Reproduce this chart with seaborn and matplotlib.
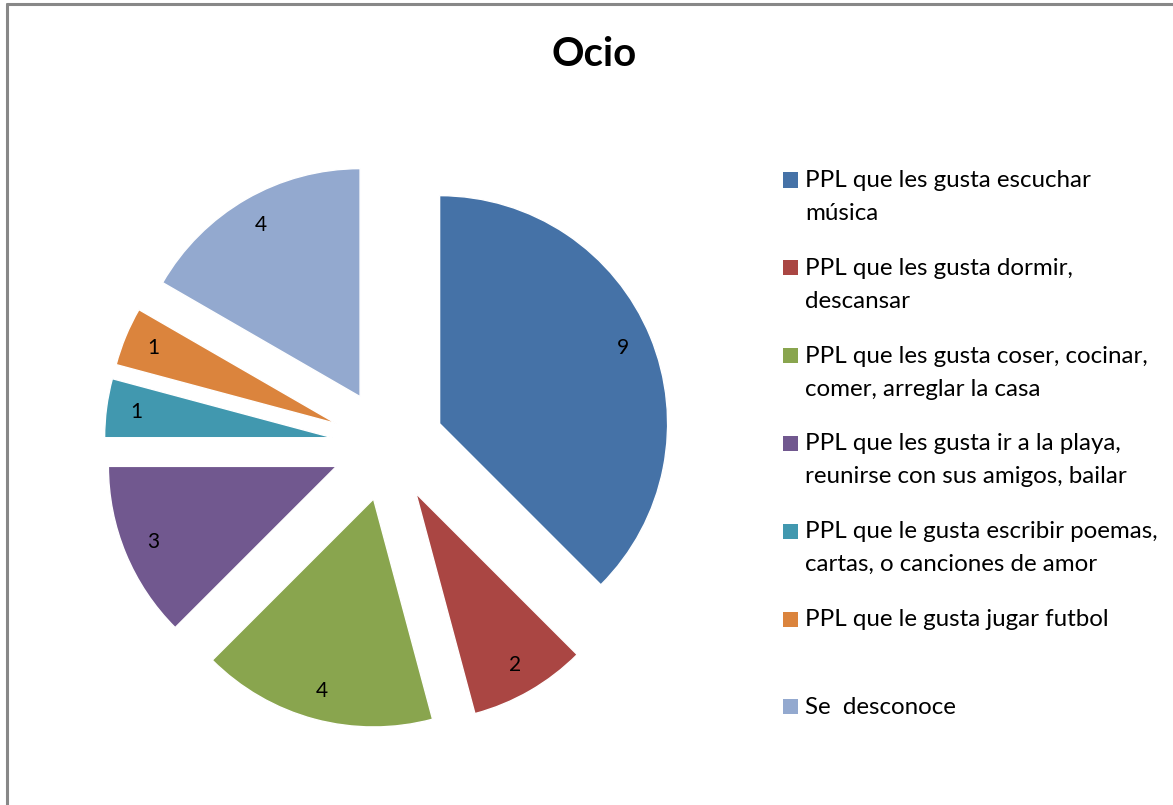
import matplotlib
matplotlib.use("Agg")
import seaborn as sns
from matplotlib import pyplot as plt
from matplotlib.lines import Line2D
from matplotlib.patches import Rectangle

sns.set_theme(style="white")
plt.rcParams["font.family"] = ["Lato", "DejaVu Sans"]
plt.rcParams["text.color"] = "black"

labels = [
    "PPL que les gusta escuchar\nmúsica",
    "PPL que les gusta dormir,\ndescansar",
    "PPL que les gusta coser, cocinar,\ncomer, arreglar la casa",
    "PPL que les gusta ir a la playa,\nreunirse con sus amigos, bailar",
    "PPL que le gusta escribir poemas,\ncartas, o canciones de amor",
    "PPL que le gusta jugar futbol",
    "Se  desconoce",
]
values = [9, 2, 4, 3, 1, 1, 4]
colors = ["#4572a7", "#aa4643", "#89a54e", "#71588f", "#4198af", "#db843d", "#93a9cf"]

W, H = 1173, 805
fig = plt.figure(figsize=(W / 100, H / 100), dpi=100)

# pie axes placed in pixels: center (388, 445), radius 228 px
cx, cy, r = 388, 445, 228
left, right, top, bottom = 60, 720, 140, 760
ax = fig.add_axes([left / W, 1 - bottom / H, (right - left) / W, (bottom - top) / H])

total = sum(values)
wedges, texts, autotexts = ax.pie(
    values,
    colors=colors,
    explode=[0.245] * len(values),
    startangle=90,
    counterclock=False,
    autopct=lambda p: f"{round(p * total / 100)}",
    pctdistance=0.87,
    textprops={"fontsize": 15, "color": "black"},
)
ax.set_xlim(-(cx - left) / r, (right - cx) / r)
ax.set_ylim(-(bottom - cy) / r, (cy - top) / r)

fig.text(594 / W, 1 - 55 / H, "Ocio", ha="center", va="center",
         fontsize=29, fontweight="bold", color="black")

# legend: square marker aligned with the first text line, fixed pitch per entry
mx, tx, sq = 783, 805, 15
y0, pitch, line_h = 180, 87.8, 33
for i, (lab, col) in enumerate(zip(labels, colors)):
    yc = y0 + i * pitch
    fig.add_artist(Rectangle((mx / W, 1 - (yc + sq / 2) / H), sq / W, sq / H,
                             facecolor=col, edgecolor="none", transform=fig.transFigure))
    for j, line in enumerate(lab.split("\n")):
        fig.text(tx / W, 1 - (yc + 7 + j * line_h) / H, line, ha="left",
                 va="baseline", fontsize=17.4, color="black")

# chart frame (only left and top edges visible)
fig.add_artist(Line2D([6.5 / W, 6.5 / W], [0, 1 - 4.5 / H], color="#888888", lw=2.2))
fig.add_artist(Line2D([6.5 / W, 1], [1 - 4.5 / H, 1 - 4.5 / H], color="#888888", lw=2.2))

fig.savefig("out.png", dpi=100, facecolor="white")
